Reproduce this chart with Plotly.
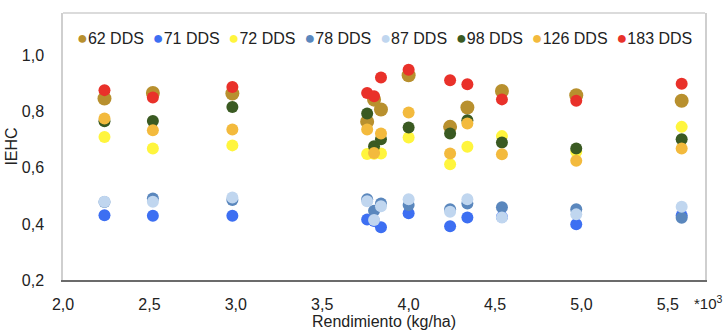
import plotly.graph_objects as go

rendimiento = [2.24, 2.52, 2.98, 3.76, 3.80, 3.84, 4.00, 4.24, 4.34, 4.54, 4.97, 5.58]

series_names = ["62 DDS", "71 DDS", "72 DDS", "78 DDS", "87 DDS", "98 DDS", "126 DDS", "183 DDS"]
dds62 = [0.847, 0.867, 0.865, 0.764, 0.843, 0.808, 0.930, 0.746, 0.815, 0.874, 0.859, 0.839]
dds71 = [0.431, 0.429, 0.429, 0.416, 0.410, 0.388, 0.438, 0.392, 0.423, 0.425, 0.399, 0.430]
dds72 = [0.710, 0.669, 0.680, 0.649, 0.650, 0.651, 0.708, 0.613, 0.675, 0.713, 0.657, 0.746]
dds78 = [0.478, 0.491, 0.485, 0.488, 0.447, 0.473, 0.467, 0.452, 0.473, 0.459, 0.452, 0.422]
dds87 = [0.479, 0.479, 0.494, 0.481, 0.414, 0.463, 0.488, 0.443, 0.488, 0.423, 0.434, 0.461]
dds98 = [0.766, 0.767, 0.817, 0.794, 0.677, 0.702, 0.744, 0.722, 0.770, 0.690, 0.669, 0.702]
dds126 = [0.776, 0.734, 0.737, 0.737, 0.653, 0.722, 0.797, 0.651, 0.758, 0.648, 0.625, 0.669]
dds183 = [0.877, 0.851, 0.888, 0.867, 0.855, 0.922, 0.950, 0.912, 0.898, 0.844, 0.839, 0.900]

colors = ["#B8902E", "#3D6FF2", "#FFF53D", "#5A87BD", "#C0D6EF", "#3A5A22", "#F3BA3D", "#E9312A"]
sizes = [14, 12, 12, 12, 12, 12, 12, 12]
values = [dds62, dds71, dds72, dds78, dds87, dds98, dds126, dds183]

x_ticks = [2.0, 2.5, 3.0, 3.5, 4.0, 4.5, 5.0, 5.5]
y_ticks = [0.2, 0.4, 0.6, 0.8, 1.0]

FONT = "Liberation Sans, Arial, sans-serif"

fig = go.Figure()
for name, vals, col, sz in zip(series_names, values, colors, sizes):
    fig.add_trace(go.Scatter(
        x=rendimiento, y=vals, mode="markers", name=name,
        marker=dict(color=col, size=sz, line=dict(width=0)),
        showlegend=False,
    ))

legend_text = "&nbsp;&nbsp;".join(
    f"<span style='color:{c};font-size:18px'>●</span>{n}" for n, c in zip(series_names, colors)
)

fig.update_layout(
    width=728, height=330,
    margin=dict(l=63, r=23, t=13, b=50),
    paper_bgcolor="white", plot_bgcolor="white",
    separators=",.",
    font=dict(family=FONT, size=16, color="#222222"),
    xaxis=dict(
        range=[2.0, 5.715], tickvals=x_ticks, tickformat=".1f",
        showgrid=False, zeroline=False, automargin=False,
        showline=True, linecolor="#6b6b6b", linewidth=1.5,
        ticks="", ticklabelstandoff=9,
        title=dict(text="Rendimiento (kg/ha)", standoff=0, font=dict(size=16)),
        tickfont=dict(size=16),
    ),
    yaxis=dict(
        range=[0.2, 1.152], tickvals=y_ticks, tickformat=".1f",
        showgrid=False, zeroline=False, automargin=False,
        showline=True, linecolor="#cfcfcf", linewidth=1.5, mirror=True,
        ticks="", ticklabelstandoff=14,
        title=dict(text="IEHC", standoff=0, font=dict(size=16)),
        tickfont=dict(size=16),
    ),
    shapes=[dict(type="line", xref="paper", yref="paper", x0=0, x1=1, y0=1, y1=1,
                 line=dict(color="#cfcfcf", width=1.5))],
    annotations=[
        dict(text=legend_text, xref="paper", yref="paper", x=0.019, y=0.905,
             xanchor="left", yanchor="middle", showarrow=False,
             font=dict(size=16, family=FONT, color="#222222")),
        dict(text="*10<sup>3</sup>", xref="paper", yref="paper", x=1.005, y=-0.085,
             xanchor="center", yanchor="middle", showarrow=False,
             font=dict(size=15, family=FONT, color="#222222")),
    ],
)

fig.write_html("out.html")
